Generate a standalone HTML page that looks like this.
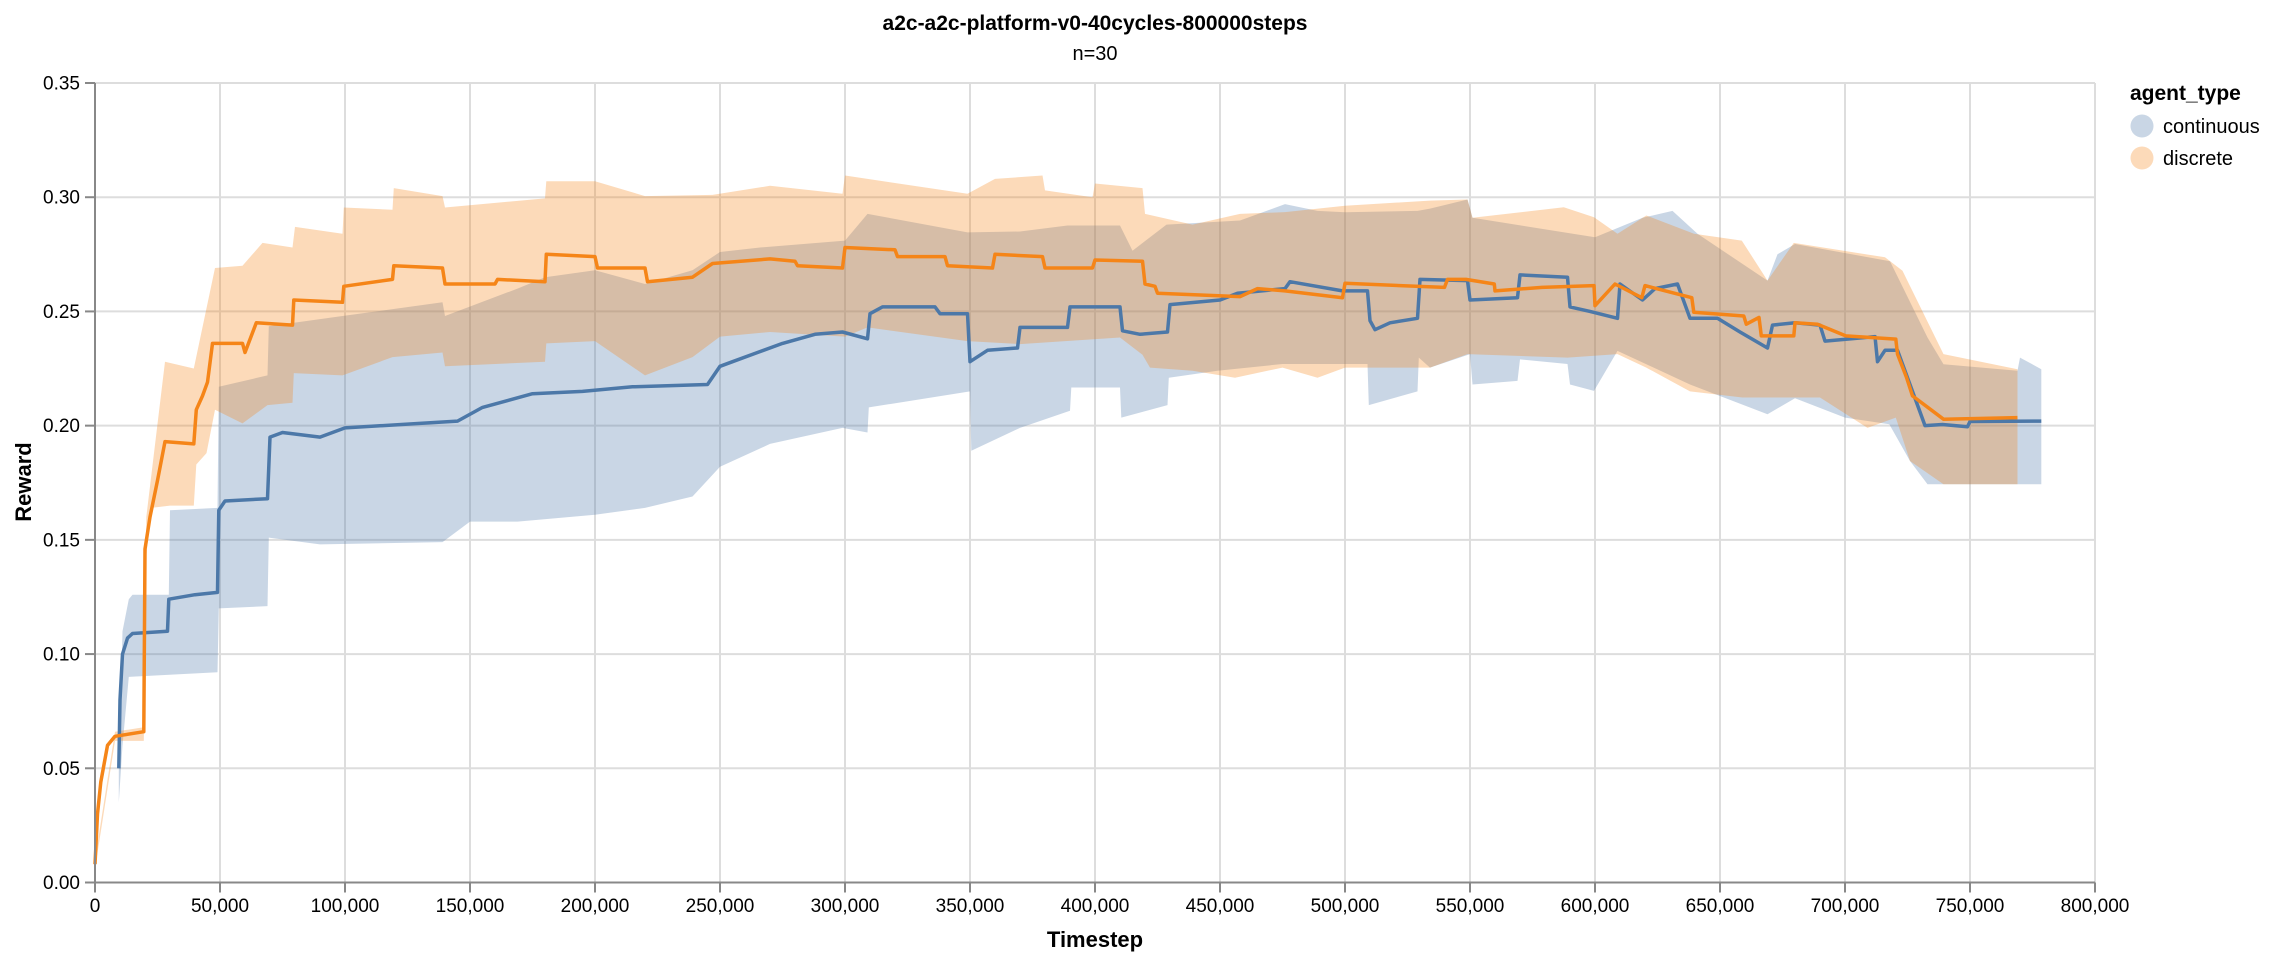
<!DOCTYPE html>
<html><head><meta charset="utf-8"><style>
html,body{margin:0;padding:0;background:#fff;}
svg text{font-family:"Liberation Sans",Arial,sans-serif;fill:#000;}
</style></head><body>
<svg id="chart" width="2270" height="956" viewBox="0 0 2270 956" xmlns="http://www.w3.org/2000/svg">
<g id="grid"></g>
<g id="bands"></g>
<g id="lines"></g>
<g id="axes"></g>
<text x="1095" y="30" text-anchor="middle" font-size="21" font-weight="bold">a2c-a2c-platform-v0-40cycles-800000steps</text>
<text x="1095" y="60" text-anchor="middle" font-size="20">n=30</text>
<text x="1095" y="947" text-anchor="middle" font-size="22" font-weight="bold">Timestep</text>
<text x="0" y="0" transform="translate(31,482) rotate(-90)" text-anchor="middle" font-size="22" font-weight="bold">Reward</text>
<g>
<text x="2130" y="100" font-size="21" font-weight="bold">agent_type</text>
<g><circle cx="2142" cy="126" r="11.5" fill="#4c78a8" fill-opacity="0.3"/><text x="2163" y="133" font-size="20">continuous</text></g>
<g><circle cx="2142" cy="158" r="11.5" fill="#f58518" fill-opacity="0.3"/><text x="2163" y="165" font-size="20">discrete</text></g>
</g>
</svg>
<script>
// timesteps in thousands
const contMeanT=[9.5,10,11,13,15,29,29.5,40,49,49.5,52,69,70,75,90,100,130,145,155,175,195,215,245,250,255,265,275,288,299,309,310,315,336,338,349,350,357,369,370,389,390,410,411,418,429,430,450,457,476,478,499,509,510,512,518,529,530,549,550,569,570,589,590,598,609,610,619,624,633,638,649,658,669,671,680,690,692,712,713,716,721,725,732,739,749,750,778.5];
const contMeanV=[0.05,0.08,0.100,0.107,0.109,0.110,0.124,0.126,0.127,0.163,0.167,0.168,0.195,0.197,0.195,0.199,0.201,0.202,0.208,0.214,0.215,0.217,0.218,0.226,0.228,0.232,0.236,0.240,0.241,0.238,0.249,0.252,0.252,0.249,0.249,0.228,0.233,0.234,0.243,0.243,0.252,0.252,0.2415,0.240,0.241,0.253,0.255,0.258,0.260,0.263,0.259,0.259,0.246,0.242,0.245,0.247,0.264,0.2635,0.255,0.256,0.266,0.265,0.252,0.250,0.247,0.262,0.255,0.260,0.262,0.247,0.247,0.241,0.234,0.244,0.245,0.244,0.237,0.239,0.228,0.233,0.233,0.221,0.200,0.2005,0.1995,0.2018,0.202];
const discMeanT=[0,1,2.3,5,8,19.5,20,22,25,28,39.5,40.5,43,45,47,59,60,64.5,79,79.5,99,99.5,119,119.5,139,140,160,161,180,180.5,200,201,220,221,239,247,270,280,281,299,300,320,321,340,341,359,360,379,380,399,400,419,420,424,425,458,465,476,499,500,539.8,541,548.4,559.7,560,578.8,599.6,600,608,618.7,620,638.7,639.5,659.5,660.5,665.6,666.5,679.5,680,689,700.3,720.3,721,724.6,727,739.4,769];
const discMeanV=[0.008,0.03,0.044,0.060,0.064,0.066,0.146,0.160,0.176,0.193,0.192,0.207,0.213,0.219,0.236,0.236,0.232,0.245,0.244,0.255,0.254,0.261,0.264,0.270,0.269,0.262,0.262,0.264,0.263,0.275,0.274,0.269,0.269,0.263,0.265,0.271,0.273,0.272,0.270,0.269,0.278,0.277,0.274,0.274,0.270,0.269,0.275,0.274,0.269,0.269,0.2725,0.272,0.262,0.261,0.258,0.2565,0.260,0.259,0.256,0.2623,0.2605,0.264,0.264,0.262,0.259,0.2605,0.2613,0.2525,0.262,0.256,0.2613,0.256,0.2496,0.248,0.2444,0.2474,0.2393,0.2393,0.245,0.2444,0.2393,0.2379,0.2313,0.2211,0.213,0.2028,0.2035];
const contHiT=[9.5,11,13.5,15,29.5,30,49,49.5,69,69.5,99,139,140,169,180,200,220,239,250,266,300,309,349,370,389,410,415,428.6,458,476,489,500,529,534,549,551,600,619,631,641,669,673,680,718,733,739.4,769,770,778.5];
const contHiV=[0.049,0.110,0.124,0.126,0.126,0.163,0.164,0.217,0.222,0.2435,0.248,0.254,0.248,0.26,0.265,0.268,0.262,0.268,0.276,0.278,0.281,0.2927,0.2846,0.285,0.2876,0.2876,0.2766,0.288,0.2898,0.297,0.294,0.2934,0.294,0.295,0.299,0.291,0.2825,0.291,0.294,0.284,0.2635,0.275,0.2795,0.272,0.2386,0.2269,0.224,0.2298,0.2247];
const contLoT=[9.5,11,13.5,49,49.5,69,69.5,90,139,150,169,200,220,239,250,270,299,309,309.5,350,350.5,370,390,390.5,410,410.5,429,429.5,449,475,509,509.5,529,529.5,534,550,551,569,570,589,590,599.6,609,638,669,680,700,717.7,726,733,778.5];
const contLoV=[0.035,0.060,0.090,0.092,0.120,0.121,0.151,0.148,0.149,0.158,0.158,0.161,0.164,0.169,0.182,0.192,0.199,0.197,0.208,0.215,0.189,0.199,0.2065,0.2167,0.2167,0.2035,0.209,0.221,0.224,0.227,0.227,0.209,0.215,0.2298,0.2254,0.2313,0.218,0.2196,0.229,0.227,0.218,0.2152,0.2327,0.218,0.205,0.212,0.2035,0.2006,0.1845,0.1743,0.1743];
const discHiT=[0,8,19.5,20.5,28,39.5,48,59,67,79,80,99,99.5,119,119.5,139,140,180,180.5,200,220,247,270,299,300,349,360,379,380,399,400,419,420,439,458,476,500,534,549,551,587.5,599.6,609,620.5,639.6,658.7,669,679.5,716,723,739.4,769];
const discHiV=[0.010,0.066,0.068,0.160,0.228,0.225,0.269,0.270,0.280,0.278,0.287,0.284,0.2955,0.2945,0.304,0.3005,0.2955,0.2995,0.307,0.307,0.3005,0.301,0.305,0.3015,0.3095,0.3015,0.308,0.3095,0.303,0.300,0.306,0.304,0.2927,0.288,0.2927,0.2935,0.2963,0.2985,0.299,0.291,0.2956,0.2912,0.284,0.292,0.284,0.281,0.2635,0.28,0.2737,0.2678,0.2313,0.2247];
const discLoT=[0,8,19.5,20.5,22.5,30,39.5,40.5,44.6,48,59,69,79,79.5,99,119,139,140,180,180.5,200,220,239,250,270,300,309,349,370,410,419,422,439,456,475,489,500,534,549,589,609,620.5,638,659,690,709,720.3,726,739.4,769];
const discLoV=[0.006,0.062,0.062,0.143,0.164,0.165,0.165,0.183,0.188,0.207,0.201,0.209,0.21,0.223,0.222,0.23,0.232,0.226,0.228,0.236,0.237,0.222,0.23,0.239,0.241,0.239,0.243,0.237,0.2357,0.2386,0.231,0.2254,0.224,0.221,0.2254,0.221,0.2254,0.2254,0.2313,0.2298,0.2313,0.2254,0.215,0.2123,0.2123,0.199,0.2035,0.1845,0.1743,0.1743];
const xTicks=[0,50000,100000,150000,200000,250000,300000,350000,400000,450000,500000,550000,600000,650000,700000,750000,800000];
const yTicks=[0,0.05,0.10,0.15,0.20,0.25,0.30,0.35];

const NS="http://www.w3.org/2000/svg";
const X0=95,X1=2095,Y0=882.5,Y1=83;
function xs(t){return X0+t/800000*(X1-X0);}
function ys(v){return Y0-v/0.35*(Y0-Y1);}
function mk(tag,parent,attrs){const e=document.createElementNS(NS,tag);for(const k in attrs)e.setAttribute(k,attrs[k]);parent.appendChild(e);return e;}
const grid=document.getElementById('grid'),axes=document.getElementById('axes'),bands=document.getElementById('bands'),lines=document.getElementById('lines');
xTicks.forEach(t=>{
  const g=mk('line',grid,{x1:xs(t),x2:xs(t),y1:Y1,y2:Y0,stroke:'#ddd','stroke-width':2});
  
  
  const tk=mk('line',axes,{x1:xs(t),x2:xs(t),y1:Y0,y2:Y0+10,stroke:'#888','stroke-width':2});
  
  
  const lb=mk('text',axes,{x:xs(t),y:912,'text-anchor':'middle','font-size':19});
  
  
  lb.textContent=t.toLocaleString('en-US');
});
yTicks.forEach(v=>{
  const g=mk('line',grid,{x1:X0,x2:X1,y1:ys(v),y2:ys(v),stroke:'#ddd','stroke-width':2});
  
  
  const tk=mk('line',axes,{x1:X0-10,x2:X0,y1:ys(v),y2:ys(v),stroke:'#888','stroke-width':2});
  
  
  const lb=mk('text',axes,{x:80,y:ys(v)+6.5,'text-anchor':'end','font-size':19});
  
  
  lb.textContent=v.toFixed(2);
});
const xa=mk('line',axes,{x1:X0,x2:X1,y1:Y0,y2:Y0,stroke:'#888','stroke-width':2});


const ya=mk('line',axes,{x1:X0,x2:X0,y1:Y1,y2:Y0,stroke:'#888','stroke-width':2});



function bandPath(hiT,hiV,loT,loV){
  let d='';
  hiT.forEach((t,i)=>{d+=(i?'L':'M')+xs(t*1000).toFixed(1)+','+ys(hiV[i]).toFixed(1);});
  for(let i=loT.length-1;i>=0;i--){d+='L'+xs(loT[i]*1000).toFixed(1)+','+ys(loV[i]).toFixed(1);}
  return d+'Z';
}
function linePath(T,V){let d='';T.forEach((t,i)=>{d+=(i?'L':'M')+xs(t*1000).toFixed(1)+','+ys(V[i]).toFixed(1);});return d;}
const b1=mk('path',bands,{d:bandPath(contHiT,contHiV,contLoT,contLoV),fill:'#4c78a8','fill-opacity':0.3});


const b2=mk('path',bands,{d:bandPath(discHiT,discHiV,discLoT,discLoV),fill:'#f58518','fill-opacity':0.3});


const l1=mk('path',lines,{d:linePath(contMeanT,contMeanV),fill:'none',stroke:'#4c78a8','stroke-width':3.5,'stroke-linejoin':'round'});


const l2=mk('path',lines,{d:linePath(discMeanT,discMeanV),fill:'none',stroke:'#f58518','stroke-width':3.5,'stroke-linejoin':'round'});


</script>
</body></html>
